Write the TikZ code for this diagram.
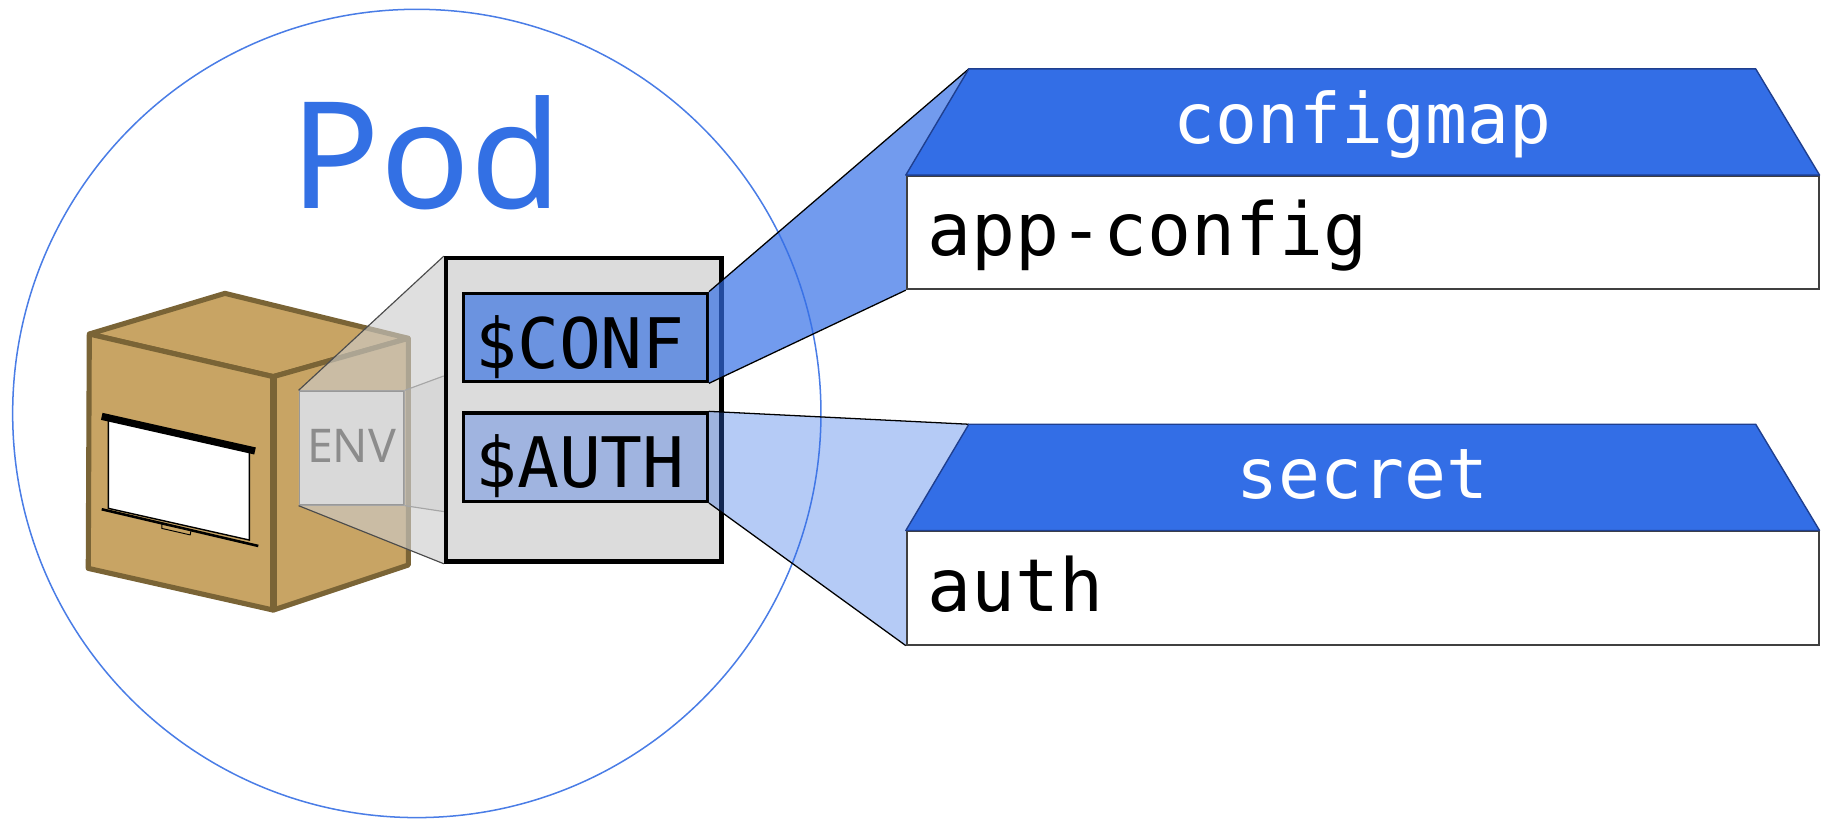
\documentclass[tikz,border=0pt]{standalone}
\usepackage{fontspec}
\setmonofont{DejaVu Sans Mono}
\newfontfamily\podfont{Noto Sans}
\usepackage{tikz}
\usetikzlibrary{calc}
\usetikzlibrary{positioning}

\definecolor{podblue}{HTML}{3370E4}
\definecolor{ringblue}{HTML}{4A7DE6}
\definecolor{headblue}{HTML}{336EE6}
\definecolor{headline}{HTML}{1F3F8F}
\definecolor{confblue}{HTML}{6B93E0}
\definecolor{authblue}{HTML}{A0B4E0}
\definecolor{boxtan}{HTML}{C8A464}
\definecolor{boxbrown}{HTML}{7A6436}
\definecolor{envgray}{HTML}{DCDCDC}
\definecolor{taggray}{HTML}{D9D9D9}
\definecolor{tagtext}{HTML}{8C8C8C}

\tikzstyle{face} = [fill=boxtan, draw=boxbrown, line width=4.4pt, line join=round]
\tikzstyle{envvar} = [rectangle, draw, line width=2.9pt, minimum width=209.8pt,
    minimum height=76pt, inner sep=0pt, text width=190pt, align=left,
    text height=53pt, text depth=0pt, font=\ttfamily\fontsize{60}{60}\selectfont]
\tikzstyle{panel} = [rectangle, draw=black!75, fill=white, line width=1.5pt,
    minimum width=785.3pt, minimum height=97.6pt, inner sep=0pt]
\tikzstyle{head} = [fill=headblue, draw=headline, line width=1.2pt, line join=round]
\tikzstyle{kind} = [inner sep=0pt, text=white, font=\ttfamily\fontsize{60}{60}\selectfont]
\tikzstyle{value} = [inner sep=0pt, font=\ttfamily\fontsize{63}{63}\selectfont]
\tikzstyle{fanedge} = [draw=black, line width=1.1pt]

\begin{document}
\begin{tikzpicture}[x=1pt,y=-1pt]
    \useasboundingbox (0,0) rectangle (1568,705);
    % the pod
    \node[circle, draw=ringblue, line width=1.3pt, minimum size=696pt] (pod) at (358.9,356) {};
    \node[anchor=base, inner sep=0pt, text=podblue, font=\podfont\fontsize{128}{128}\selectfont] (podlabel) at (366.8,179.4) {Pod};
    % container box
    \draw[face] (76.9,287.6) -- (193.7,252.6) -- (351.6,291.3) -- (235.3,324.3) -- cycle;
    \draw[face] (235.3,324.3) -- (351.6,291.3) -- (351.6,486.5) -- (235.3,525.3) -- cycle;
    \draw[face] (76.9,287.6) -- (235.3,324.3) -- (235.3,525.3) -- (76,489.4) -- cycle;
    \draw[boxbrown, line width=6pt] (235.3,324.3) -- (235.3,525.3);
    % screen on the front
    \draw[fill=white, line width=1.2pt] (93.3,361.6) -- (214.7,388.9) -- (214.7,465) -- (93.3,437.7) -- cycle;
    \draw[line width=6.2pt] (87.6,358.5) -- (219.6,388.3);
    \draw[line width=2.2pt] (87.6,438.5) -- (222.4,470.1);
    \draw[fill=boxtan, line width=0.8pt] (139.4,451.4) -- (164.4,457.1) -- (163.8,460.6) -- (139.4,455) -- cycle;
    % environment
    \node[rectangle, fill=envgray, draw, line width=3.7pt, minimum width=237.3pt, minimum height=261.2pt] (envbox) at (502.65,353) {};
    \node[rectangle, fill=taggray, draw=black!40, line width=1.2pt, minimum width=90.2pt, minimum height=98.1pt,
        inner sep=0pt, text=tagtext, text height=25.3pt, text depth=0pt, font=\podfont\fontsize{40}{40}\selectfont] (envtag) at (302.8,385.75) {ENV};
    \coordinate (innertop) at ($(envbox.west)+(0,-29.3)$);
    \coordinate (innerbot) at ($(envbox.west)+(0,87.5)$);
    \fill[black!20, opacity=0.62, even odd rule] (envtag.north west) -- (envbox.north west) -- (envbox.south west)
        -- (envtag.south west) -- cycle (envtag.north west) rectangle (envtag.south east);
    \fill[black!25, opacity=0.25] (envtag.north east) -- (innertop) -- (innerbot) -- (envtag.south east) -- cycle;
    \draw[black!70, line width=1pt] (envtag.north west) -- (envbox.north west);
    \draw[black!70, line width=1pt] (envtag.south west) -- (envbox.south west);
    \draw[black!35, line width=1pt] (envtag.north east) -- (innertop);
    \draw[black!35, line width=1pt] (envtag.south east) -- (innerbot);
    \node[envvar, fill=confblue] (conf) at (504.1,290.6) {\$CONF};
    \node[envvar, fill=authblue] (auth) at (504.1,393.65) {\$AUTH};
    % config objects
    \node[panel] (cmbody) at (1173.35,200.3) {};
    \node[panel] (secbody) at (1173.35,506.35) {};
    \coordinate (cmtl) at ($(cmbody.north west)+(54.3,-91.5)$);
    \coordinate (cmtr) at ($(cmbody.north east)+(-55,-91.5)$);
    \coordinate (sectl) at ($(secbody.north west)+(54.3,-91.5)$);
    \coordinate (sectr) at ($(secbody.north east)+(-55,-91.5)$);
    % Draw edges
    \fill[headblue, opacity=0.69] (conf.north east) -- (cmtl) -- (cmbody.north west) -- (cmbody.south west) -- (conf.south east) -- cycle;
    \fill[headblue, opacity=0.36] (auth.north east) -- (sectl) -- (secbody.north west) -- (secbody.south west) -- (auth.south east) -- cycle;
    \draw[fanedge] (conf.north east) -- (cmtl);
    \draw[fanedge] (conf.south east) -- (cmbody.south west);
    \draw[fanedge] (auth.north east) -- (sectl);
    \draw[fanedge] (auth.south east) -- (secbody.south west);
    \draw[head] (cmbody.north west) -- (cmtl) -- (cmtr) -- (cmbody.north east) -- cycle;
    \draw[head] (secbody.north west) -- (sectl) -- (sectr) -- (secbody.north east) -- cycle;
    \node[kind, anchor=base] (cmkind) at ($(cmbody.north)+(0,-27.2)$) {configmap};
    \node[kind, anchor=base] (seckind) at ($(secbody.north)+(0,-27.5)$) {secret};
    \node[value, anchor=base west] (cmname) at ($(cmbody.west)+(18.5,19.3)$) {app-config};
    \node[value, anchor=base west] (secname) at ($(secbody.west)+(18.5,20.4)$) {auth};
\end{tikzpicture}
\end{document}
